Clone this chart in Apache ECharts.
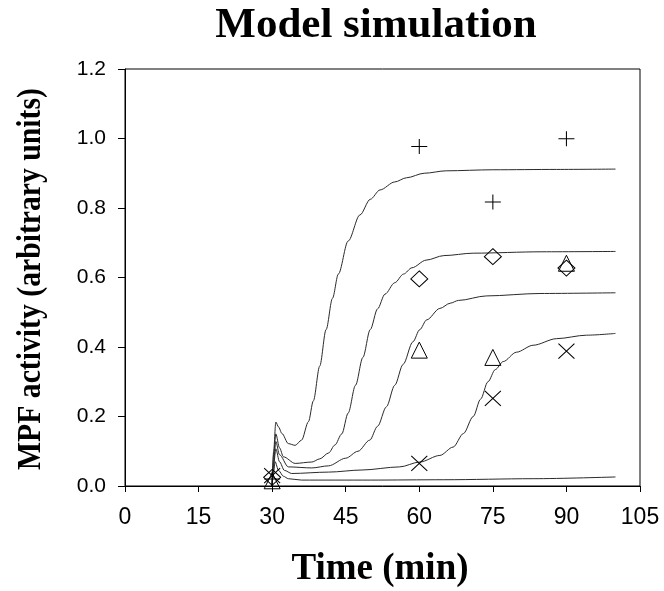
<!DOCTYPE html>
<html>
<head>
<meta charset="utf-8">
<script src="https://cdn.jsdelivr.net/npm/echarts@6/dist/echarts.min.js"></script>
<style>
html,body{margin:0;padding:0;background:#fff;}
#chart{width:664px;height:591px;}
</style>
</head>
<body>
<div id="chart"></div>
<script>
// Axis ticks
var xTicks = [0, 15, 30, 45, 60, 75, 90, 105];
var yTicks = [0.0, 0.2, 0.4, 0.6, 0.8, 1.0, 1.2];

// Experimental data (time, MPF activity)
var dataTimes = [30, 60, 75, 90];
var plusValues = [0.02, 0.977, 0.817, 0.999];
var diamondValues = [0.025, 0.596, 0.66, 0.627];
var triangleValues = [0.015, 0.391, 0.37, 0.641];
var crossValues = [0.03, 0.065, 0.252, 0.388];

// Model curves [time, value]
var curve1 = [[30,0],[30.3,0.1],[30.75,0.184],[31.3,0.17],[32,0.151],[33.3,0.122],[34.7,0.117],[36,0.132],[37.4,0.185],[38.4,0.245],[39.7,0.345],[41,0.45],[42.3,0.54],[43.5,0.61],[45.5,0.705],[47.9,0.78],[50,0.825],[52,0.852],[55,0.875],[57.4,0.887],[61,0.9],[65.5,0.907],[75,0.91],[88,0.911],[100,0.912]];
var curve2 = [[30,0],[30.3,0.09],[30.75,0.15],[31.5,0.11],[32.3,0.084],[34.7,0.065],[38.1,0.069],[39.7,0.078],[41.5,0.095],[42.8,0.118],[44.2,0.15],[45.5,0.21],[47,0.29],[48.5,0.37],[50,0.45],[51.5,0.51],[53,0.552],[55,0.585],[56.8,0.61],[58.5,0.628],[61.4,0.65],[65,0.663],[71,0.67],[85,0.674],[100,0.675]];
var curve3 = [[30,0],[30.3,0.07],[30.75,0.128],[31.5,0.09],[33.3,0.055],[38.1,0.052],[41.5,0.058],[45,0.08],[47.5,0.1],[49.9,0.132],[51.5,0.172],[53.3,0.228],[55,0.29],[56.7,0.35],[58.7,0.415],[60.1,0.45],[61.5,0.478],[64.2,0.511],[66.3,0.526],[68,0.534],[73.7,0.547],[84.6,0.554],[100,0.556]];
var curve4 = [[30,0],[30.3,0.06],[30.75,0.107],[31.5,0.07],[32.5,0.045],[34,0.036],[41.5,0.04],[48.3,0.046],[56,0.055],[60.1,0.069],[64.2,0.088],[66.9,0.112],[69,0.151],[71,0.2],[72.5,0.25],[74,0.3],[75.5,0.335],[77.1,0.358],[79.8,0.385],[83.2,0.405],[88,0.424],[94.1,0.434],[100,0.439]];
var curve5 = [[30,0],[30.3,0.04],[30.6,0.07],[31.3,0.045],[32.3,0.028],[33.3,0.021],[36,0.017],[50,0.017],[65,0.018],[83.2,0.021],[100,0.026]];

var titleText = 'Model simulation';
var xTitle = 'Time (min)';
var yTitle = 'MPF activity (arbitrary units)';

function pairs(ts, vs) { return ts.map(function (t, i) { return [t, vs[i]]; }); }

var serif = "'Liberation Serif', 'Times New Roman', serif";
var tickFont = "'Liberation Sans', Arial, sans-serif";
var lineColor = '#2a2a2a';

function curveSeries(d) {
  return {
    type: 'line', data: d, showSymbol: false, symbol: 'none',
    smooth: 0.3, smoothMonotone: 'x',
    lineStyle: { color: lineColor, width: 1 }, silent: true, z: 2
  };
}
function markerSeries(d, symbol, size) {
  return {
    type: 'scatter', data: d, symbol: symbol, symbolSize: size,
    itemStyle: { color: 'rgba(0,0,0,0)', borderColor: '#000', borderWidth: 1, opacity: 1 },
    silent: true, z: 3
  };
}

var chart = echarts.init(document.getElementById('chart'), null, { renderer: 'canvas' });
chart.setOption({
  animation: false,
  backgroundColor: '#fff',
  grid: { left: 125, right: 24, top: 69, bottom: 105, containLabel: false, outerBoundsMode: 'none',
          show: true, borderColor: '#000', borderWidth: 1, backgroundColor: 'transparent' },
  xAxis: {
    type: 'value', min: xTicks[0], max: xTicks[xTicks.length - 1], interval: 15,
    axisLine: { show: true, onZero: false, lineStyle: { color: '#000', width: 1 } },
    axisTick: { show: true, inside: false, length: 6, lineStyle: { color: '#000' } },
    splitLine: { show: false },
    axisLabel: { margin: 20, fontFamily: tickFont, fontSize: 23, color: '#000', showMinLabel: true, showMaxLabel: true }
  },
  yAxis: {
    type: 'value', min: yTicks[0], max: yTicks[yTicks.length - 1], interval: 0.2,
    axisLine: { show: true, onZero: false, lineStyle: { color: '#000', width: 1 } },
    axisTick: { show: true, inside: false, length: 7, lineStyle: { color: '#000' } },
    splitLine: { show: false },
    axisLabel: { margin: 19, fontFamily: tickFont, fontSize: 21, color: '#000',
                 formatter: function (v) { return v.toFixed(1); } }
  },
  graphic: [
    { type: 'text', x: 376, y: 26, silent: true,
      style: { text: titleText, fontFamily: serif, fontWeight: 'bold', fontSize: 43, fill: '#000',
               align: 'center', verticalAlign: 'middle', textAlign: 'center', textVerticalAlign: 'middle' } },
    { type: 'text', x: 380, y: 569, silent: true,
      style: { text: xTitle, fontFamily: serif, fontWeight: 'bold', fontSize: 37, fill: '#000',
               align: 'center', verticalAlign: 'middle', textAlign: 'center', textVerticalAlign: 'middle' } },
    { type: 'text', x: 31, y: 279, rotation: Math.PI / 2, scaleX: 0.9, silent: true,
      style: { text: yTitle, fontFamily: serif, fontWeight: 'bold', fontSize: 33, fill: '#000',
               align: 'center', verticalAlign: 'middle', textAlign: 'center', textVerticalAlign: 'middle' } }
  ],
  series: [
    curveSeries(curve1), curveSeries(curve2), curveSeries(curve3), curveSeries(curve4), curveSeries(curve5),
    markerSeries(pairs(dataTimes, plusValues), 'path://M8,0L8,16M0,8L16,8', [16, 15]),
    markerSeries(pairs(dataTimes, diamondValues), 'diamond', [17, 16]),
    markerSeries(pairs(dataTimes, triangleValues), 'triangle', [16, 16]),
    markerSeries(pairs(dataTimes, crossValues), 'path://M0,0L16,16M16,0L0,16', [16, 15])
  ]
});
</script>
</body>
</html>
